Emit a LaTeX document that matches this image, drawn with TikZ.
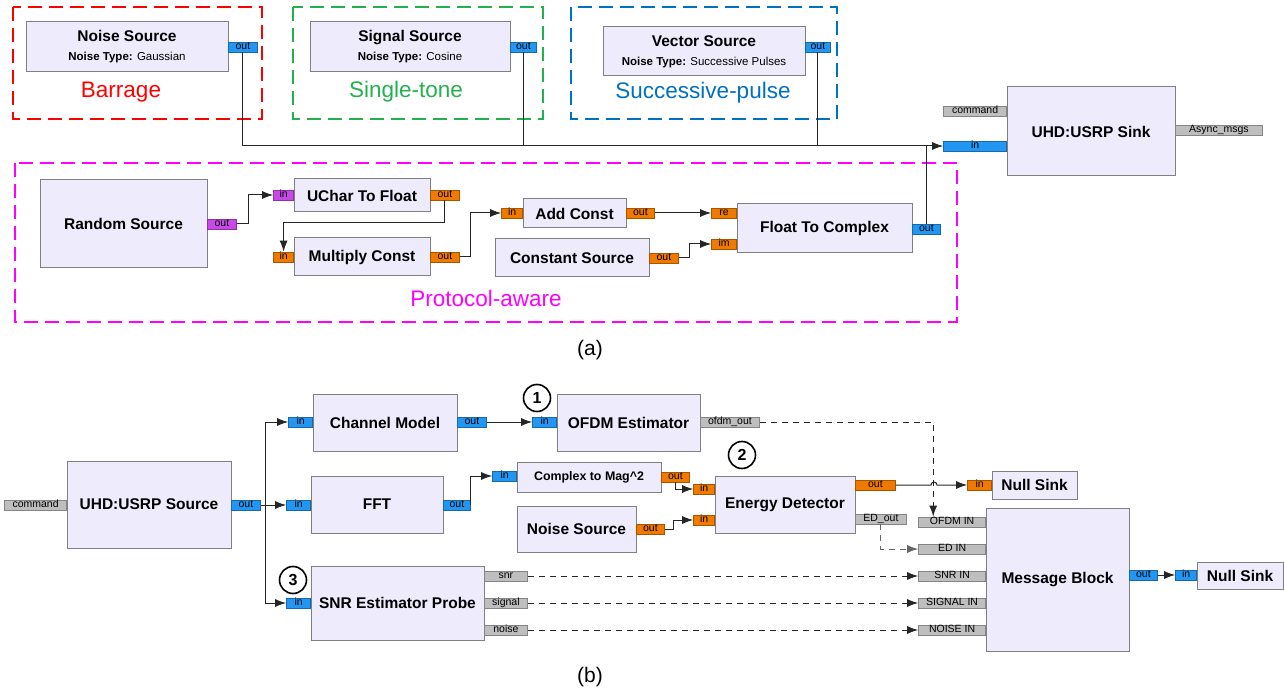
\documentclass[tikz,border=0pt]{standalone}
\usepackage{fontspec}
\setmainfont{Liberation Sans}
\usetikzlibrary{arrows.meta,positioning}

\definecolor{blkfill}{RGB}{238,235,253}
\definecolor{pblue}{RGB}{33,150,243}
\definecolor{porange}{RGB}{240,122,0}
\definecolor{pmag}{RGB}{200,72,232}
\definecolor{pgray}{RGB}{190,190,190}
\definecolor{gred}{RGB}{255,0,0}
\definecolor{ggreen}{RGB}{34,177,76}
\definecolor{gblue}{RGB}{0,112,192}
\definecolor{gmag}{RGB}{255,0,255}
\newcommand{\subl}{\fontsize{11.5}{13}\selectfont}

\begin{document}
\begin{tikzpicture}[x=1pt, y=-1pt,
  blk/.style={draw=black!50, fill=blkfill, line width=1pt, inner sep=0pt,
    align=center, font=\fontsize{15.5}{18}\selectfont\bfseries},
  port/.style={draw=#1!70!black, fill=#1, line width=0.8pt, inner sep=0pt,
    minimum height=10pt, text height=7.2pt, text depth=1.8pt,
    font=\fontsize{10.5}{10.5}\selectfont},
  grp/.style={draw=#1, line width=2pt, dash pattern=on 14pt off 7pt},
  lbl/.style={text=#1, anchor=base, font=\fontsize{22.5}{24}\selectfont},
  wire/.style={line width=1pt, black!85},
  arr/.style={wire, -{Latex[length=11pt,width=8pt]}},
  msg/.style={arr, dash pattern=on 6pt off 5pt},
  num/.style={circle, draw, line width=1.6pt, minimum size=27pt,
    inner sep=0pt, font=\fontsize{16}{16}\selectfont\bfseries},
  subcap/.style={font=\fontsize{21}{21}\selectfont}]

\useasboundingbox (0,0) rectangle (1284,692);

% (a) jammer sources
\draw[grp=gred]   (13,7) rectangle (262,119);
\draw[grp=ggreen] (293,7) rectangle (543,119);
\draw[grp=gblue]  (571,7) rectangle (837,119);
\draw[grp=gmag]   (15,163) rectangle (957,322);

\node[blk, minimum width=202pt, minimum height=50pt] (ns) at (127,47)
  {Noise Source\\[1pt]{\subl Noise Type: {\mdseries Gaussian}}};
\node[port=pblue, anchor=west, minimum width=29pt] (ns-out) at (228,47) {out};
\node[blk, minimum width=200pt, minimum height=50pt] (ss) at (410,47)
  {Signal Source\\[1pt]{\subl Noise Type: {\mdseries Cosine}}};
\node[port=pblue, anchor=west, minimum width=26pt] (ss-out) at (510,47) {out};
\node[blk, minimum width=202pt, minimum height=49pt] (vs) at (704,51.5)
  {Vector Source\\[1pt]{\subl Noise Type: {\mdseries Successive Pulses}}};
\node[port=pblue, anchor=west, minimum width=25pt] (vs-out) at (805,47) {out};

\node[lbl=gred]   (l-bar) at (121,98) {Barrage};
\node[lbl=ggreen] (l-sin) at (406,98) {Single-tone};
\node[lbl=gblue]  (l-suc) at (703,99) {Successive-pulse};
\node[lbl=gmag]   (l-pro) at (486,307) {Protocol-aware};

% USRP sink
\node[blk, minimum width=168pt, minimum height=89pt] (sink) at (1091,131.5)
  {UHD:USRP Sink};
\node[port=pgray, anchor=east, minimum width=63pt] (sink-cmd) at (1007,111) {command};
\node[port=pblue, anchor=east, minimum width=63pt] (sink-in) at (1007,146) {in};
\node[port=pgray, anchor=west, minimum width=87pt] (sink-async) at (1175,130) {Async\_msgs};

% Protocol-aware chain
\node[blk, minimum width=167pt, minimum height=88pt] (rs) at (123.5,224) {Random Source};
\node[port=pmag, anchor=west, minimum width=29pt] (rs-out) at (207,224) {out};
\node[blk, minimum width=136pt, minimum height=33pt] (u2f) at (362,195.5) {UChar To Float};
\node[port=pmag, anchor=east, minimum width=20pt] (u2f-in) at (294,195) {in};
\node[port=porange, anchor=west, minimum width=29pt] (u2f-out) at (430,195) {out};
\node[blk, minimum width=136pt, minimum height=38pt] (mc) at (362,257) {Multiply Const};
\node[port=porange, anchor=east, minimum width=20pt] (mc-in) at (294,257) {in};
\node[port=porange, anchor=west, minimum width=29pt] (mc-out) at (430,257) {out};
\node[blk, minimum width=103pt, minimum height=29pt] (ac) at (574.5,213.5) {Add Const};
\node[port=porange, anchor=east, minimum width=21pt] (ac-in) at (523,213) {in};
\node[port=porange, anchor=west, minimum width=28pt] (ac-out) at (626,213) {out};
\node[blk, minimum width=154pt, minimum height=38pt] (cs) at (572,258) {Constant Source};
\node[port=porange, anchor=west, minimum width=29pt] (cs-out) at (649,258) {out};
\node[blk, minimum width=175pt, minimum height=49pt] (f2c) at (824.5,228.5) {Float To Complex};
\node[port=porange, anchor=east, minimum width=25pt] (f2c-re) at (737,213) {re};
\node[port=porange, anchor=east, minimum width=25pt] (f2c-im) at (737,244) {im};
\node[port=pblue, anchor=west, minimum width=28pt] (f2c-out) at (912,229) {out};

\draw[arr] (rs-out.east) -- ++(12,0) |- (u2f-in.west);
\draw[arr] (u2f-out.south) -- ++(0,22) -| (mc-in.north);
\draw[arr] (mc-out.east) -- ++(11,0) |- (ac-in.west);
\draw[arr] (ac-out.east) -- (f2c-re.west);
\draw[arr] (cs-out.east) -- ++(11,0) |- (f2c-im.west);

% into the sink
\draw[arr] (ns-out.south) |- (sink-in.west);
\draw[wire] (ss-out.south) -- (ss-out.south |- sink-in.west);
\draw[wire] (vs-out.south) -- (vs-out.south |- sink-in.west);
\draw[wire] (f2c-out.north) -- (f2c-out.north |- sink-in.west);

\node[subcap] (cap-a) at (590,350) {(a)};

% (b) detection chain
\node[blk, minimum width=164pt, minimum height=87pt] (src) at (149,504.5) {UHD:USRP Source};
\node[port=pgray, anchor=east, minimum width=62pt] (src-cmd) at (67,505) {command};
\node[port=pblue, anchor=west, minimum width=29pt] (src-out) at (231,505) {out};

\node[blk, minimum width=144pt, minimum height=57pt] (cm) at (385,422.5) {Channel Model};
\node[port=pblue, anchor=east, minimum width=24pt] (cm-in) at (313,422) {in};
\node[port=pblue, anchor=west, minimum width=29pt] (cm-out) at (457,422) {out};
\node[blk, minimum width=132pt, minimum height=57pt] (fft) at (377,504.5) {FFT};
\node[port=pblue, anchor=east, minimum width=24pt] (fft-in) at (311,505) {in};
\node[port=pblue, anchor=west, minimum width=27pt] (fft-out) at (443,505) {out};
\node[blk, minimum width=173pt, minimum height=74pt] (snr) at (397.5,603) {SNR Estimator Probe};
\node[port=pblue, anchor=east, minimum width=24pt] (snr-in) at (311,603) {in};
\node[port=pgray, anchor=west, minimum width=43pt] (snr-snr) at (484,576) {snr};
\node[port=pgray, anchor=west, minimum width=43pt] (snr-sig) at (484,603) {signal};
\node[port=pgray, anchor=west, minimum width=43pt] (snr-noise) at (484,630) {noise};

\node[blk, minimum width=143pt, minimum height=57pt] (ofdm) at (628.5,422.5) {OFDM Estimator};
\node[port=pblue, anchor=east, minimum width=24pt] (ofdm-in) at (557,422) {in};
\node[port=pgray, anchor=west, minimum width=59pt] (ofdm-out) at (700,422) {ofdm\_out};
\node[blk, minimum width=144pt, minimum height=30pt,
  font=\fontsize{12.4}{14}\selectfont\bfseries] (mag) at (589,477) {Complex to Mag\^{}2};
\node[port=pblue, anchor=east, minimum width=24pt] (mag-in) at (517,476) {in};
\node[port=porange, anchor=west, minimum width=28pt] (mag-out) at (661,477) {out};
\node[blk, minimum width=119pt, minimum height=46pt] (nsrc) at (576.5,529) {Noise Source};
\node[port=porange, anchor=west, minimum width=28pt] (nsrc-out) at (636,529) {out};
\node[blk, minimum width=140pt, minimum height=57pt] (ed) at (785,504.5) {Energy Detector};
\node[port=porange, anchor=east, minimum width=21pt] (ed-in1) at (715,489) {in};
\node[port=porange, anchor=east, minimum width=21pt] (ed-in2) at (715,520) {in};
\node[port=porange, anchor=west, minimum width=40pt] (ed-out) at (855,485) {out};
\node[port=pgray, anchor=west, minimum width=51pt] (ed-msg) at (855,519) {ED\_out};

\node[blk, minimum width=85pt, minimum height=28pt] (null1) at (1034.5,485) {Null Sink};
\node[port=porange, anchor=east, minimum width=24pt] (null1-in) at (992,485) {in};
\node[blk, minimum width=143pt, minimum height=143pt] (mb) at (1057.5,579.5) {Message Block};
\node[port=pgray, anchor=east, minimum width=67pt] (mb-ofdm) at (986,522) {OFDM IN};
\node[port=pgray, anchor=east, minimum width=67pt] (mb-ed) at (986,549) {ED IN};
\node[port=pgray, anchor=east, minimum width=67pt] (mb-snr) at (986,576) {SNR IN};
\node[port=pgray, anchor=east, minimum width=67pt] (mb-sig) at (986,603) {SIGNAL IN};
\node[port=pgray, anchor=east, minimum width=67pt] (mb-noise) at (986,630) {NOISE IN};
\node[port=pblue, anchor=west, minimum width=28pt] (mb-out) at (1129,575) {out};
\node[blk, minimum width=86pt, minimum height=27pt] (null2) at (1240,575.5) {Null Sink};
\node[port=pblue, anchor=east, minimum width=21pt] (null2-in) at (1197,575) {in};

\node[num] (n1) at (537,398) {1};
\node[num] (n2) at (742,455) {2};
\node[num] (n3) at (293,580) {3};

% stream connections
\draw[arr] (src-out.east) -- ++(5,0) |- (cm-in.west);
\draw[arr] (src-out.east) -- (fft-in.west);
\draw[arr] (src-out.east) -- ++(5,0) |- (snr-in.west);
\draw[arr] (cm-out.east) -- (ofdm-in.west);
\draw[arr] (fft-out.east) |- (mag-in.west);
\draw[arr] (mag-out.south) |- (ed-in1.west);
\draw[arr] (nsrc-out.east) -- ++(9,0) |- (ed-in2.west);
\draw[arr] (ed-out.east) -- (931,485) arc[start angle=180, end angle=360, radius=3]
  -- (null1-in.west);
\draw[arr] (mb-out.east) -- (null2-in.west);

% message connections
\draw[msg] (ofdm-out.east) -| ([xshift=15pt]mb-ofdm.north west);
\draw[msg, black!60] (ed-msg.south) |- (mb-ed.west);
\draw[msg] (snr-snr.east) -- (mb-snr.west);
\draw[msg] (snr-sig.east) -- (mb-sig.west);
\draw[msg] (snr-noise.east) -- (mb-noise.west);

\node[subcap] (cap-b) at (590,677) {(b)};

\end{tikzpicture}
\end{document}
